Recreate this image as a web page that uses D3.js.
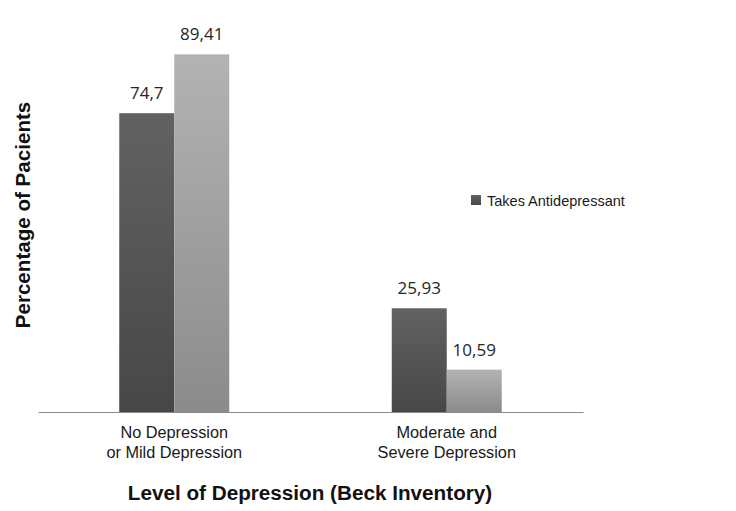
<!DOCTYPE html>
<html><head><meta charset="utf-8">
<script src="https://cdn.jsdelivr.net/npm/d3@7"></script>
<style>body{margin:0;background:#fff}</style>
</head><body>
<svg id="c" width="736" height="511"></svg>
<script>
const categories = [["No Depression","or Mild Depression"],["Moderate and","Severe Depression"]];
const seriesNames = ["Takes Antidepressant","Does Not Take Antidepressant"];
const takes = [74.7, 25.93];
const notTakes = [89.41, 10.59];
const valueLabels = [["74,7","25,93"],["89,41","10,59"]];

const svg = d3.select("#c");
const defs = svg.append("defs");
function grad(id, top, bot){
  const g = defs.append("linearGradient").attr("id",id).attr("x1",0).attr("y1",0).attr("x2",0).attr("y2",1);
  g.append("stop").attr("offset","0%").attr("stop-color",top);
  g.append("stop").attr("offset","100%").attr("stop-color",bot);
}
grad("gDark","#616261","#474747");
grad("gLight","#b2b3b2","#8b8b8b");

const x0 = d3.scaleBand().domain([0,1]).range([38,583]).paddingInner(0).paddingOuter(0);
const x1 = d3.scaleBand().domain([0,1]).range([0,110]);
const y = d3.scaleLinear().domain([0,100]).range([412,12]);
const series = [takes, notTakes];
const fills = ["url(#gDark)","url(#gLight)"];

series.forEach((vals, si) => {
  const g = svg.append("g");
  g.selectAll("rect").data(vals).enter().append("rect")
    .attr("x",(d,i)=> x0(i)+x0.bandwidth()/2-55 + x1(si))
    .attr("y",d=>y(d))
    .attr("width",x1.bandwidth())
    .attr("height",d=>y(0)-y(d))
    .attr("fill",fills[si]);
  g.selectAll("text").data(vals).enter().append("text")
    .attr("x",(d,i)=> x0(i)+x0.bandwidth()/2-55 + x1(si)+x1.bandwidth()/2)
    .attr("y",d=>y(d)-14)
    .attr("text-anchor","middle")
    .attr("font-family","Open Sans, sans-serif")
    .attr("font-size",17)
    .attr("fill","#262626")
    .text((d,i)=>valueLabels[si][i]);
});

// axis
const axis = d3.axisBottom(x0).tickSize(0).tickFormat("");
const ag = svg.append("g").attr("transform","translate(0,412)").call(axis);
ag.select(".domain").attr("stroke","#8c8c8c").attr("stroke-width",1.2);

categories.forEach((lines,i)=>{
  const t = svg.append("text")
    .attr("x",x0(i)+x0.bandwidth()/2)
    .attr("text-anchor","middle")
    .attr("font-family","Liberation Sans, Arial, sans-serif")
    .attr("font-size",16.3)
    .attr("fill","#1a1a1a");
  lines.forEach((l,j)=> t.append("tspan").attr("x",x0(i)+x0.bandwidth()/2).attr("y",438+j*20).text(l));
});

svg.append("text").attr("x",310).attr("y",500).attr("text-anchor","middle")
  .attr("font-family","Liberation Sans, Arial, sans-serif").attr("font-weight","bold")
  .attr("font-size",20.7).attr("fill","#111").text("Level of Depression (Beck Inventory)");

svg.append("text").attr("transform","translate(30,215) rotate(-90)").attr("text-anchor","middle")
  .attr("font-family","Liberation Sans, Arial, sans-serif").attr("font-weight","bold")
  .attr("font-size",20.6).attr("fill","#111").text("Percentage of Pacients");

// legend
const lg = svg.append("g").attr("transform","translate(471,195)");
lg.append("rect").attr("width",10).attr("height",10).attr("fill","url(#gDark)");
lg.append("text").attr("x",16).attr("y",11).attr("font-family","Liberation Sans, Arial, sans-serif")
  .attr("font-size",14.5).attr("fill","#1a1a1a").text(seriesNames[0]);
</script>
</body></html>
